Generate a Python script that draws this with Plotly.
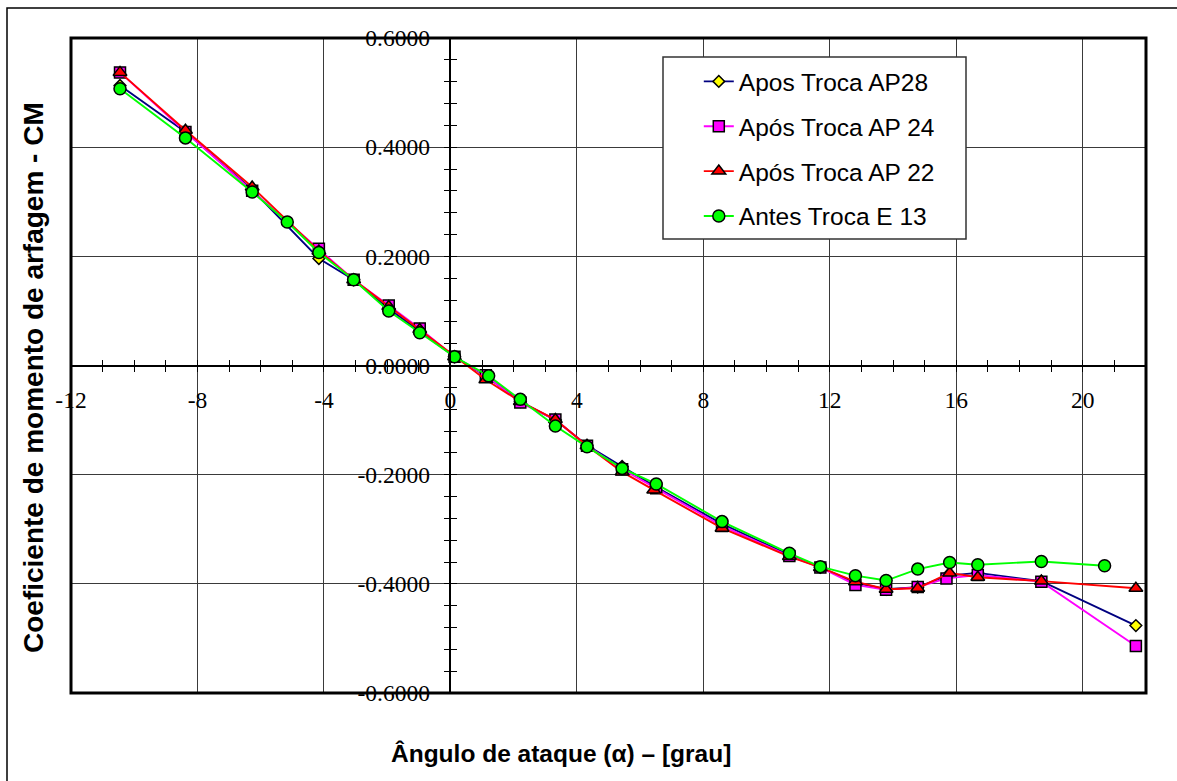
import plotly.graph_objects as go

# Angle of attack (deg) and pitching-moment coefficient per configuration
alpha_ap28 = [-10.45, -8.38, -6.27, -4.16, -3.06, -1.95, -0.97, 0.13, 1.12, 2.21, 3.32, 4.32,
              5.43, 6.48, 8.59, 10.72, 11.70, 12.81, 13.78, 14.78, 15.72, 16.68, 18.69, 21.68]
cm_ap28 = [0.513, 0.428, 0.322, 0.196, 0.157, 0.104, 0.063, 0.016, -0.019, -0.066, -0.100, -0.146,
           -0.185, -0.222, -0.290, -0.347, -0.370, -0.398, -0.410, -0.406, -0.385, -0.380, -0.395, -0.4765]

alpha_ap24 = [-10.45, -8.38, -6.27, -4.16, -3.06, -1.95, -0.97, 0.13, 1.12, 2.21, 3.32, 4.32,
              5.43, 6.51, 8.59, 10.72, 11.70, 12.81, 13.78, 14.78, 15.69, 16.68, 18.69, 21.68]
cm_ap24 = [0.537, 0.428, 0.320, 0.214, 0.157, 0.110, 0.068, 0.016, -0.018, -0.068, -0.099, -0.147,
           -0.190, -0.225, -0.294, -0.349, -0.370, -0.402, -0.411, -0.406, -0.390, -0.384, -0.396, -0.514]

alpha_ap22 = [-10.45, -8.38, -6.27, -4.16, -3.06, -1.95, -0.97, 0.13, 1.12, 2.21, 3.32, 4.32,
              5.43, 6.43, 8.59, 10.72, 11.70, 12.81, 13.78, 14.78, 15.79, 16.68, 18.69, 21.68]
cm_ap22 = [0.537, 0.431, 0.327, 0.210, 0.157, 0.108, 0.066, 0.016, -0.026, -0.066, -0.099, -0.147,
           -0.195, -0.228, -0.298, -0.350, -0.370, -0.396, -0.410, -0.408, -0.380, -0.388, -0.395, -0.408]

alpha_e13 = [-10.45, -8.38, -6.27, -5.16, -4.16, -3.06, -1.95, -0.97, 0.13, 1.21, 2.21, 3.32, 4.32,
             5.43, 6.51, 8.59, 10.72, 11.70, 12.81, 13.78, 14.78, 15.79, 16.68, 18.69, 20.69]
cm_e13 = [0.507, 0.417, 0.318, 0.263, 0.207, 0.157, 0.100, 0.060, 0.016, -0.019, -0.062, -0.111, -0.149,
          -0.1885, -0.217, -0.286, -0.344, -0.3685, -0.385, -0.394, -0.373, -0.361, -0.365, -0.359, -0.367]

series_names = ["Apos Troca AP28", "Após Troca AP 24", "Após Troca AP 22", "Antes Troca E 13"]

x_tick_vals = [-12, -8, -4, 0, 4, 8, 12, 16, 20]
x_tick_text = ["-12", "-8", "-4", "0", "4", "8", "12", "16", "20"]
y_tick_vals = [-0.6, -0.4, -0.2, 0.0, 0.2, 0.4, 0.6]
y_tick_text = ["-0.6000", "-0.4000", "-0.2000", "0.0000", "0.2000", "0.4000", "0.6000"]

X_RANGE = [-12, 22]
Y_RANGE = [-0.6, 0.6]

SANS = "Liberation Sans, Arial, sans-serif"
SERIF = "Liberation Serif, Times New Roman, serif"

fig = go.Figure()

styles = [
    (alpha_ap28, cm_ap28, "#000080", "diamond", "#FFFF00", 9),
    (alpha_ap24, cm_ap24, "#FF00FF", "square", "#FF00FF", 11),
    (alpha_ap22, cm_ap22, "#FF0000", "triangle-up", "#FF0000", 12),
    (alpha_e13, cm_e13, "#00FF00", "circle", "#00FF00", 12),
]
for name, (xs, ys, lc, sym, fc, ms) in zip(series_names, styles):
    fig.add_trace(go.Scatter(
        x=xs, y=ys, name=name, mode="lines+markers", legendgroup=name,
        line=dict(color=lc, width=1.9),
        marker=dict(symbol=sym, color=fc, size=ms, line=dict(color="black", width=1.5)),
    ))

# empty trace so the companion axes (inner half of crossing ticks) are rendered
fig.add_trace(go.Scatter(x=[], y=[], xaxis="x2", yaxis="y2", showlegend=False, hoverinfo="skip"))

y_axis_pos = (0 - X_RANGE[0]) / (X_RANGE[1] - X_RANGE[0])
x_axis_pos = (0 - Y_RANGE[0]) / (Y_RANGE[1] - Y_RANGE[0])

fig.update_layout(
    width=1177, height=781,
    margin=dict(l=71, r=31, t=38, b=88),
    paper_bgcolor="white", plot_bgcolor="white",
    showlegend=True,
    xaxis=dict(
        range=X_RANGE, anchor="free", position=x_axis_pos,
        tickvals=x_tick_vals, ticktext=x_tick_text,
        showgrid=True, gridcolor="#3a3a3a", gridwidth=1, zeroline=False,
        showline=True, linecolor="black", linewidth=1.5,
        ticks="outside", ticklen=6, tickwidth=1, tickcolor="black",
        minor=dict(dtick=1, tick0=0, ticks="outside", ticklen=6, tickcolor="black", showgrid=False),
        tickfont=dict(family=SERIF, size=23.5, color="black"),
        ticklabelstandoff=8,
    ),
    yaxis=dict(
        range=Y_RANGE, anchor="free", position=y_axis_pos,
        tickvals=y_tick_vals, ticktext=y_tick_text,
        showgrid=True, gridcolor="#3a3a3a", gridwidth=1, zeroline=False,
        showline=True, linecolor="black", linewidth=1.5,
        ticks="outside", ticklen=6, tickwidth=1, tickcolor="black",
        minor=dict(dtick=0.04, tick0=0, ticks="outside", ticklen=6, tickcolor="black", showgrid=False),
        tickfont=dict(family=SERIF, size=23.5, color="black"),
        ticklabelstandoff=9,
    ),
    xaxis2=dict(
        range=X_RANGE, overlaying="x", anchor="free", position=x_axis_pos,
        tickvals=x_tick_vals, showticklabels=False, showgrid=False, zeroline=False,
        ticks="inside", ticklen=6, tickcolor="black",
        minor=dict(dtick=1, tick0=0, ticks="inside", ticklen=6, tickcolor="black", showgrid=False),
    ),
    yaxis2=dict(
        range=Y_RANGE, overlaying="y", anchor="free", position=y_axis_pos,
        tickvals=y_tick_vals, showticklabels=False, showgrid=False, zeroline=False,
        ticks="inside", ticklen=6, tickcolor="black",
        minor=dict(dtick=0.04, tick0=0, ticks="inside", ticklen=6, tickcolor="black", showgrid=False),
    ),
    legend=dict(
        x=0.584, y=0.968, xanchor="left", yanchor="top",
        bgcolor="rgba(0,0,0,0)", borderwidth=0,
        font=dict(family=SANS, size=24.5, color="black"),
        tracegroupgap=10, itemwidth=30,
    ),
)

# plot frame
fig.add_shape(type="rect", xref="x domain", yref="y domain", x0=0, x1=1, y0=0, y1=1,
              line=dict(color="black", width=3), layer="above")
# legend box
fig.add_shape(type="rect", xref="paper", yref="paper",
              x0=(663 - 71) / 1075, x1=(966 - 71) / 1075,
              y0=(693 - 239) / 655, y1=(693 - 57) / 655,
              fillcolor="white", line=dict(color="#333333", width=1.5), layer="above")
# outer chart border
fig.add_shape(type="rect", xref="paper", yref="paper",
              x0=(7 - 71) / 1075, x1=1.2, y0=-0.3, y1=1 + (38 - 8) / 655,
              line=dict(color="black", width=1.5), layer="above")

fig.add_annotation(text="Ângulo de ataque (α) – [grau]", xref="paper", yref="paper",
                   x=(561 - 71) / 1075, y=(693 - 753) / 655, showarrow=False,
                   xanchor="center", yanchor="middle",
                   font=dict(family=SANS, size=24.5, color="black", weight="bold"))
fig.add_annotation(text="Coeficiente de momento de arfagem - CM", xref="paper", yref="paper",
                   x=(33 - 71) / 1075, y=(693 - 378) / 655, showarrow=False, textangle=-90,
                   xanchor="center", yanchor="middle",
                   font=dict(family=SANS, size=28, color="black", weight="bold"))

fig.write_html("out.html")
